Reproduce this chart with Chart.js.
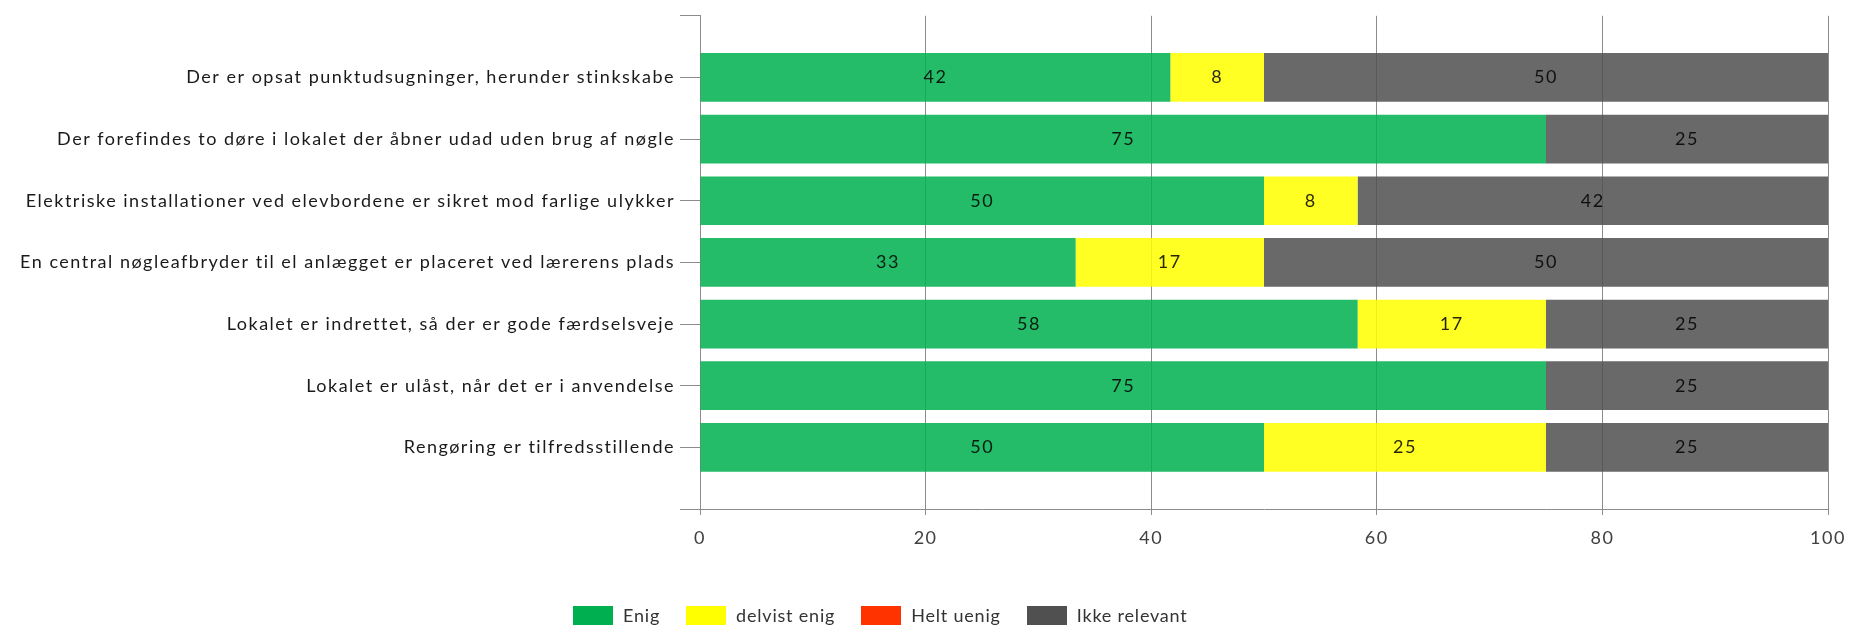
<!DOCTYPE html>
<html>
<head>
<meta charset="utf-8">
<script src="https://cdn.jsdelivr.net/npm/chart.js@4/dist/chart.umd.min.js"></script>
<style>
  html, body { margin: 0; padding: 0; background: #fff; }
  #wrap { position: relative; width: 1867px; height: 627px; }
  #legend {
    position: absolute; left: 573px; top: 604px;
    display: flex; align-items: center;
    font-family: Lato, sans-serif; font-size: 18px; letter-spacing: 0.8px; color: #333;
  }
  #legend .item { display: flex; align-items: center; margin-right: 26px; }
  #legend .box { width: 40px; height: 19px; margin-right: 10px; }
</style>
</head>
<body>
<div id="wrap">
  <canvas id="chart" width="1867" height="627"></canvas>
  <div id="legend"></div>
</div>
<script>
// Spørgsmål (kategorier)
const categories = [
    'Der er opsat punktudsugninger, herunder stinkskabe',
    'Der forefindes to døre i lokalet der åbner udad uden brug af nøgle',
    'Elektriske installationer ved elevbordene er sikret mod farlige ulykker',
    'En central nøgleafbryder til el anlægget er placeret ved lærerens plads',
    'Lokalet er indrettet, så der er gode færdselsveje',
    'Lokalet er ulåst, når det er i anvendelse',
    'Rengøring er tilfredsstillende'
];

// Procentværdier pr. svarkategori
const enig = [41.7, 75, 50, 33.3, 58.3, 75, 50];
const delvistEnig = [8.3, 0, 8.3, 16.7, 16.7, 0, 25];
const heltUenig = [0, 0, 0, 0, 0, 0, 0];
const ikkeRelevant = [50, 25, 41.7, 50, 25, 25, 25];

const xTicks = [0, 20, 40, 60, 80, 100];

const series = [
    { label: 'Enig', data: enig, color: '#00b050', fill: 'rgba(0,176,80,0.86)' },
    { label: 'delvist enig', data: delvistEnig, color: '#ffff00', fill: 'rgba(255,255,0,0.86)' },
    { label: 'Helt uenig', data: heltUenig, color: '#ff3300', fill: 'rgba(255,51,0,0.86)' },
    { label: 'Ikke relevant', data: ikkeRelevant, color: '#505050', fill: 'rgba(80,80,80,0.86)' }
];

const FONT = 'Lato, sans-serif';

// tom plads øverst og nederst på kategori-aksen
const yLabels = [''].concat(categories, ['']);
const pad = arr => [null].concat(arr, [null]);

// lidt bredere tekst, ligner Calibri mere
const spacing = {
    id: 'spacing',
    beforeDraw(chart) { chart.ctx.letterSpacing = '1.5px'; }
};

// værdier midt i hver bjælke
const barValues = {
    id: 'barValues',
    afterDatasetsDraw(chart) {
        const ctx = chart.ctx;
        ctx.save();
        ctx.font = '18px ' + FONT;
        ctx.fillStyle = 'rgba(0,0,0,0.85)';
        ctx.textAlign = 'center';
        ctx.textBaseline = 'middle';
        chart.data.datasets.forEach((ds, i) => {
            const meta = chart.getDatasetMeta(i);
            meta.data.forEach((el, j) => {
                const v = ds.data[j];
                if (!v) return;
                ctx.fillText(Math.round(v), (el.x + el.base) / 2, el.y);
            });
        });
        ctx.restore();
    }
};

new Chart(document.getElementById('chart'), {
    type: 'bar',
    data: {
        labels: yLabels,
        datasets: series.map(s => ({
            label: s.label,
            data: pad(s.data),
            backgroundColor: s.fill,
            borderWidth: 0,
            categoryPercentage: 1,
            barPercentage: 0.79
        }))
    },
    options: {
        indexAxis: 'y',
        responsive: false,
        animation: false,
        layout: { padding: { top: 12, right: 39, bottom: 0, left: 0 } },
        plugins: {
            legend: { display: false },
            tooltip: { enabled: false }
        },
        scales: {
            x: {
                stacked: true,
                min: 0,
                max: 100,
                afterBuildTicks: scale => { scale.ticks = xTicks.map(v => ({ value: v })); },
                afterFit: scale => { scale.height = 118; },
                grid: { color: '#8c8c8c', tickLength: 6, drawOnChartArea: true },
                border: { color: '#8c8c8c' },
                ticks: { color: '#404040', padding: 12, font: { family: FONT, size: 18 } }
            },
            y: {
                stacked: true,
                offset: false,
                afterFit: scale => { scale.width = 700; },
                grid: { color: '#8c8c8c', tickLength: 20, drawOnChartArea: false, offset: false },
                border: { color: '#8c8c8c' },
                ticks: { color: '#1a1a1a', padding: 5, autoSkip: false, font: { family: FONT, size: 18 } }
            }
        }
    },
    plugins: [spacing, barValues]
});

// forklaring
const legendEl = document.getElementById('legend');
series.forEach(s => {
    const item = document.createElement('div');
    item.className = 'item';
    item.innerHTML = `<span class="box" style="background:${s.color}"></span><span>${s.label}</span>`;
    legendEl.appendChild(item);
});
</script>
</body>
</html>
